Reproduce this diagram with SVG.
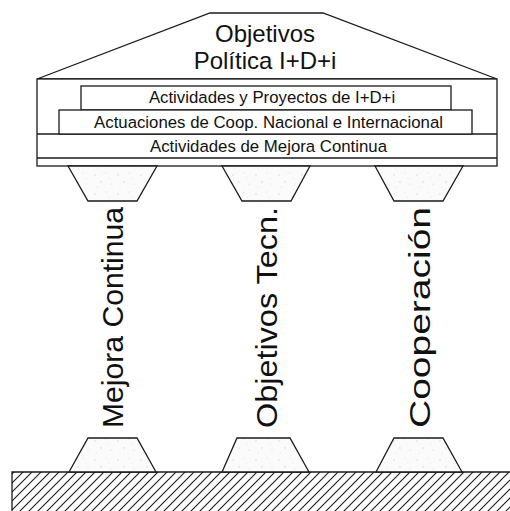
<svg xmlns="http://www.w3.org/2000/svg" width="510" height="511" viewBox="0 0 510 511">
  <style>
    .ln { fill: none; stroke: #1a1a1a; stroke-width: 1.3; }
    .box { fill: #ffffff; stroke: #1a1a1a; stroke-width: 1.3; }
    .stone { fill: url(#speckle); stroke: #1a1a1a; stroke-width: 1.3; stroke-linejoin: miter; }
    .t { font-family: "Liberation Sans", Arial, sans-serif; fill: #111; text-anchor: middle; }
    .title { font-size: 24px; }
    .band { font-size: 16.8px; }
    .col { font-size: 30px; }
  </style>
  <defs>
    <!-- light concrete texture for capitals and bases -->
    <pattern id="speckle" patternUnits="userSpaceOnUse" width="23" height="19">
      <rect width="23" height="19" fill="#fbfbfb"/>
      <circle cx="3" cy="4" r="0.7" fill="#d2d2d2"/>
      <circle cx="14" cy="2" r="0.6" fill="#dcdcdc"/>
      <circle cx="9" cy="11" r="0.7" fill="#cfcfcf"/>
      <circle cx="19" cy="13" r="0.6" fill="#d8d8d8"/>
      <circle cx="5" cy="16" r="0.5" fill="#dddddd"/>
      <circle cx="17" cy="7" r="0.5" fill="#e0e0e0"/>
    </pattern>
    <!-- diagonal hatching for the ground -->
    <pattern id="hatch" patternUnits="userSpaceOnUse" width="9" height="9">
      <path d="M0,9 L9,0 M-1,1 L1,-1 M8,10 L10,8" stroke="#1a1a1a" stroke-width="1.1"/>
    </pattern>
  </defs>

  <!-- ground -->
  <g id="ground">
    <rect x="12" y="472" width="500" height="45" fill="url(#hatch)"/>
    <path class="ln" d="M12,516 L12,472 L512,472"/>
  </g>

  <!-- roof / pediment -->
  <g id="roof">
    <polygon class="box" points="37,79 210,13 323,13 497,79"/>
    <text class="t title" x="265" y="42">Objetivos</text>
    <text class="t title" x="265" y="69">Política I+D+i</text>
  </g>

  <!-- entablature with three bands -->
  <g id="entablature">
    <rect class="box" x="37" y="79" width="460" height="87"/>
    <line class="ln" x1="37" y1="134" x2="497" y2="134"/>
    <line class="ln" x1="37" y1="158" x2="497" y2="158"/>
  </g>
  <g id="band-idi">
    <rect class="box" x="81" y="86" width="370" height="24"/>
    <text class="t band" x="272" y="103">Actividades y Proyectos de I+D+i</text>
  </g>
  <g id="band-coop">
    <rect class="box" x="59" y="110" width="413" height="24"/>
    <text class="t band" x="268.5" y="127.7">Actuaciones de Coop. Nacional e Internacional</text>
  </g>
  <g id="band-mejora">
    <text class="t band" x="268.5" y="151.5">Actividades de Mejora Continua</text>
  </g>

  <!-- pillar 1 -->
  <g id="pillar-mejora">
    <polygon class="stone" points="68,166 157,166 137,201 88,201"/>
    <polygon class="stone" points="88,438 137,438 156,472 69,472"/>
    <text class="t col" transform="translate(123,317.5) rotate(-90)" textLength="221" lengthAdjust="spacingAndGlyphs">Mejora Continua</text>
  </g>

  <!-- pillar 2 -->
  <g id="pillar-objetivos">
    <polygon class="stone" points="222,166 310,166 291,201 242,201"/>
    <polygon class="stone" points="237,438 290,438 309,472 222,472"/>
    <text class="t col" transform="translate(276.5,317.5) rotate(-90)" textLength="221" lengthAdjust="spacingAndGlyphs">Objetivos Tecn.</text>
  </g>

  <!-- pillar 3 -->
  <g id="pillar-cooperacion">
    <polygon class="stone" points="375,166 463,166 443,201 394,201"/>
    <polygon class="stone" points="394,438 443,438 462,472 376,472"/>
    <text class="t col" transform="translate(430,317.5) rotate(-90)" textLength="221" lengthAdjust="spacingAndGlyphs">Cooperación</text>
  </g>
</svg>
